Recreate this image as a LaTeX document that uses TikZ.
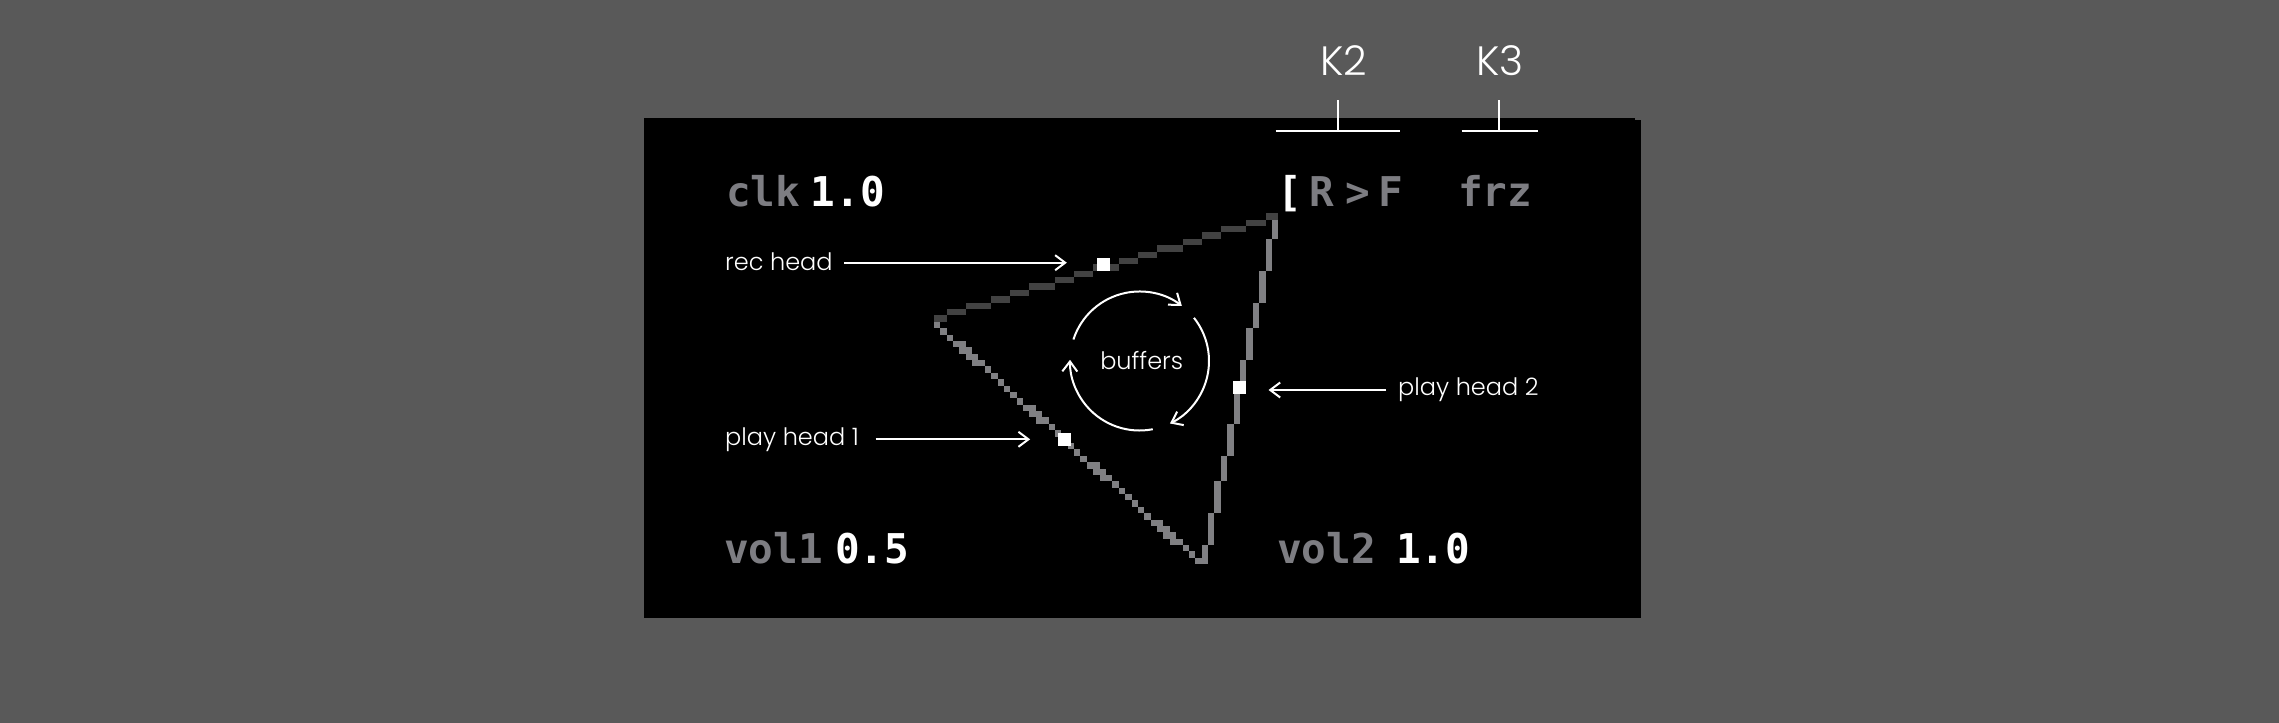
\documentclass[tikz,border=0pt]{standalone}
\usepackage{fontspec}
\IfFontExistsTF{Poppins Light}{\setmainfont{Poppins Light}}{\setmainfont{Poppins}}
\newfontfamily\pixfont{DejaVu Sans Mono}
\usetikzlibrary{arrows.meta}
\definecolor{bgc}{RGB}{89,89,89}
\definecolor{pixgray}{RGB}{125,125,130}
\definecolor{edgegray}{RGB}{128,128,131}
\definecolor{edgedark}{RGB}{66,66,66}
\newcommand\pixline[5]{%
  \pgfmathtruncatemacro\pxN{max(abs((#4)-(#2)),abs((#5)-(#3)))}%
  \foreach \k in {0,...,\pxN}{%
    \pgfmathtruncatemacro\pxx{round((#2)+((#4)-(#2))*\k/\pxN)}%
    \pgfmathtruncatemacro\pxy{round((#3)+((#5)-(#3))*\k/\pxN)}%
    \fill[#1] (\pxx,\pxy) rectangle ++(1,1);
  }}
\tikzset{
  lbl/.style={text=white, font=\fontsize{24}{28}\selectfont, inner sep=0pt, anchor=base west},
  keylbl/.style={text=white, font=\fontsize{41}{45}\selectfont, inner sep=0pt, anchor=base},
  pxg/.style={text=pixgray, font=\pixfont\bfseries\fontsize{41}{45}\selectfont, inner sep=0pt, anchor=base west},
  pxw/.style={pxg, text=white},
  arr/.style={draw=white, line width=2pt, -{Straight Barb[length=10pt,width=15pt]}},
  headsq/.style={fill=white, minimum size=13pt, inner sep=0pt, outer sep=0pt},
  keyline/.style={draw=white, line width=2.2pt},
}
\begin{document}
\begin{tikzpicture}[x=1pt,y=-1pt]
\useasboundingbox (0,0) rectangle (2279,723);
\fill[bgc] (0,0) rectangle (2279,723);
% screen
\fill[black] (643.5,118) rectangle (1641,618.3);
\fill[bgc] (1635,118) rectangle (1641,120);
% pixel triangle
\begin{scope}[shift={(1201.7,213.3)}, x=6.38pt, y=-6.38pt]
  \foreach \r in {0,...,37}{%
    \pgfmathsetmacro\xc{-41.5+\r*41/37}%
    \pgfmathtruncatemacro\ia{ceil(\xc-1.2)}%
    \pgfmathtruncatemacro\ib{floor(\xc+0.2)}%
    \pgfmathtruncatemacro\jj{17+\r}%
    \fill[edgegray] (\ia,\jj) rectangle (\ib+1,\jj+1);
  }
  \pixline{edgegray}{11}{1}{0}{54}
  \pixline{edgedark}{-42}{16}{11}{0}
\end{scope}
% heads
\node[headsq] (recsq) at (1103.3,264.2) {};
\node[headsq] (ph1sq) at (1064.3,439.7) {};
\node[headsq] (ph2sq) at (1239.7,387) {};
% pixel texts
\node[pxg] (clk) at (726,206) {clk};
\node[pxw] (clkv) at (810.7,206) {1.0};
\node[pxw] (brk) at (1277,206) {[};
\node[pxg] (rf) at (1309,206) {R\kern12pt>\kern8pt F};
\node[pxg] (frz) at (1458,206) {frz};
\node[pxg] (vol1) at (724,563) {vol1};
\node[pxw] (vol1v) at (835,563) {0.5};
\node[pxg] (vol2) at (1277,563) {vol2};
\node[pxw] (vol2v) at (1396,563) {1.0};
% key labels
\node[keylbl] (k2) at (1344,75.7) {K2};
\node[keylbl] (k3) at (1500,75.7) {K3};
\coordinate (k2l) at (1275.7,131);
\coordinate (k2r) at (1400,131);
\coordinate (k3l) at (1461.7,131);
\coordinate (k3r) at (1537.7,131);
\draw[keyline] (k2l) -- (k2r);
\draw[keyline] (k3l) -- (k3r);
\draw[keyline] (1338,131) -- (1338,100);
\draw[keyline] (1499.3,131) -- (1499.3,100);
% labels
\node[lbl] (rec) at (725,270) {rec head};
\node[lbl] (ph1) at (725,445) {play head 1};
\node[lbl] (ph2) at (1398,395.7) {play head 2};
\coordinate (recA) at (844,262.7);
\coordinate (ph1A) at (875.7,439.3);
\coordinate (ph2A) at (1386,390);
\draw[arr] (recA) -- ([xshift=-30pt]recsq.west |- recA);
\draw[arr] (ph1A) -- ([xshift=-27.7pt]ph1sq.west |- ph1A);
\draw[arr] (ph2A) -- ([xshift=22.3pt]ph2sq.east |- ph2A);
% buffers
\node[lbl, anchor=base] (buf) at (1141.7,369) {buffers};
\coordinate (bc) at (1139.5,361);
\draw[arr] ([shift={(-162:69.5)}]bc) arc[start angle=-162, end angle=-52.5, radius=69.5];
\draw[arr] ([shift={(-38.4:69.5)}]bc) arc[start angle=-38.4, end angle=64, radius=69.5];
\draw[arr] ([shift={(79:69.5)}]bc) arc[start angle=79, end angle=181, radius=69.5];
\end{tikzpicture}
\end{document}
